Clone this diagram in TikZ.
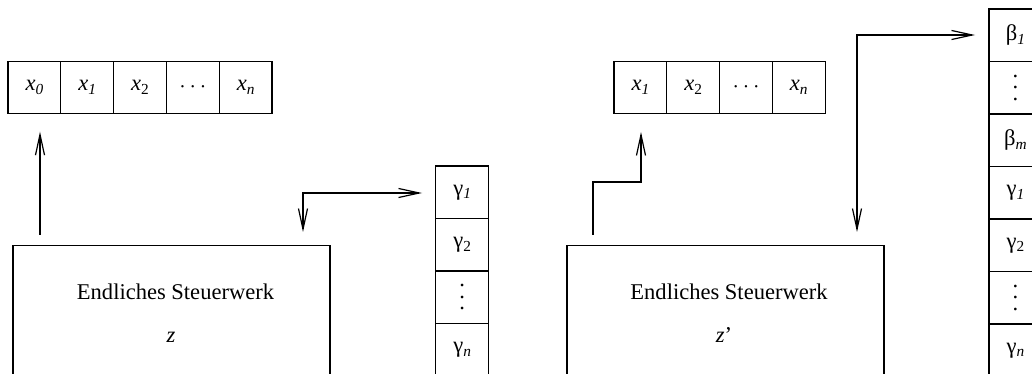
\documentclass[tikz,border=0pt]{standalone}
\usepackage{fontspec}
\setmainfont{Liberation Serif}
\usetikzlibrary{arrows.meta}

% lowered, smaller index
\newcommand{\lo}[1]{\raisebox{-0.35ex}{\fontsize{11.5}{12}\selectfont #1}}
% three stacked dots
\newcommand{\stackdots}{\vbox{\baselineskip=8.6pt\lineskiplimit=0pt\hbox{.}\hbox{.}\hbox{.}}}

\tikzset{
  every node/.style={font=\fontsize{16.9}{20}\selectfont},
  tapecell/.style={draw, line width=0.9pt, minimum width=39.6pt, minimum height=38.7pt,
                   inner sep=0pt, outer sep=0pt},
  stackcell/.style={draw, line width=0.9pt, minimum width=39.75pt, minimum height=39.4pt,
                    inner sep=0pt, outer sep=0pt},
  control/.style={draw, line width=0.9pt},
  arr/.style={line width=0.9pt, -{Straight Barb[length=15.5pt,width=6.8pt,line width=0.9pt]}},
  darr/.style={line width=0.9pt, {Straight Barb[length=15.5pt,width=6.8pt,line width=0.9pt]}-{Straight Barb[length=15.5pt,width=6.8pt,line width=0.9pt]}},
}

\begin{document}
\begin{tikzpicture}[x=0.75pt, y=-0.75pt]
\useasboundingbox (0,0) rectangle (1032,374);

% ---------- left configuration ----------
% input tape
\node[tapecell] (a0) at (34.4,87.5)  {\textit{x}\lo{\textit{0}}};
\node[tapecell] (a1) at (87.2,87.5)  {\textit{x}\lo{\textit{1}}};
\node[tapecell] (a2) at (140.0,87.5) {\textit{x}\lo{2}};
\node[tapecell] (a3) at (192.8,87.5) {$\cdots$};
\node[tapecell] (a4) at (245.6,87.5) {\textit{x}\lo{\textit{n}}};

% control unit
\draw[control] (13,400) -- (13,245.7) coordinate (boxLnw) -- (330,245.7) coordinate (boxLne) -- (330,400);
\node[anchor=base] (titleL) at (175.5,299) {Endliches Steuerwerk};
\node[anchor=base] (stateL) at (171,342) {\textit{z}};

% stack
\node[stackcell] (g1) at (462.2,192.25) {γ\lo{\textit{1}}};
\node[stackcell] (g2) at (462.2,244.75) {γ\lo{2}};
\node[stackcell] (g3) at (462.2,297.25) {\stackdots};
\node[stackcell] (g4) at (462.2,349.75) {γ\lo{\textit{n}}};

% connectors
\coordinate (headL) at (40,235);
\coordinate (headLtip) at (40,131.7);
\draw[arr] (headL) -- (headLtip);

\coordinate (stackLdown) at (303,232);
\coordinate (stackLtip) at (422,193);
\draw[darr] (stackLdown) -- (303,193) -- (stackLtip);

% ---------- right configuration ----------
% input tape
\node[tapecell] (b1) at (640.4,87.5) {\textit{x}\lo{\textit{1}}};
\node[tapecell] (b2) at (693.2,87.5) {\textit{x}\lo{2}};
\node[tapecell] (b3) at (746.0,87.5) {$\cdots$};
\node[tapecell] (b4) at (798.8,87.5) {\textit{x}\lo{\textit{n}}};

% control unit
\draw[control] (567,400) -- (567,245.7) coordinate (boxRnw) -- (884,245.7) coordinate (boxRne) -- (884,400);
\node[anchor=base] (titleR) at (729,299) {Endliches Steuerwerk};
\node[anchor=base] (stateR) at (724,342) {\textit{z}’};

% stack
\node[stackcell] (s1) at (1015.5,35.25)  {β\lo{\textit{1}}};
\node[stackcell] (s2) at (1015.5,87.75)  {\stackdots};
\node[stackcell] (s3) at (1015.5,140.25) {β\lo{\textit{m}}};
\node[stackcell] (s4) at (1015.5,192.75) {γ\lo{\textit{1}}};
\node[stackcell] (s5) at (1015.5,245.25) {γ\lo{2}};
\node[stackcell] (s6) at (1015.5,297.75) {\stackdots};
\node[stackcell] (s7) at (1015.5,350.25) {γ\lo{\textit{n}}};

% connectors
\coordinate (headR) at (593,235);
\coordinate (headRtip) at (641,132);
\draw[arr] (headR) -- (593,182) -- (641,182) -- (headRtip);

\coordinate (stackRdown) at (857,232);
\coordinate (stackRtip) at (975,35);
\draw[darr] (stackRdown) -- (857,35) -- (stackRtip);
\end{tikzpicture}
\end{document}
